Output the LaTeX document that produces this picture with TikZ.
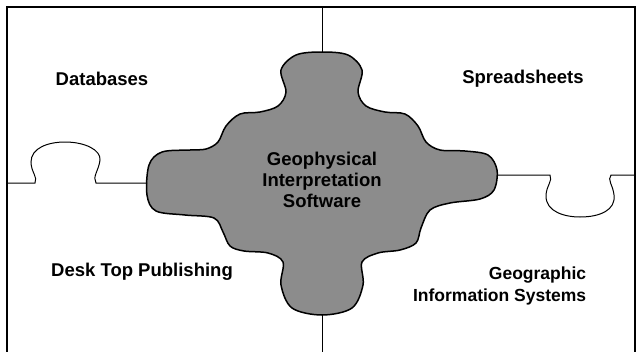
\documentclass[tikz,border=0pt]{standalone}
\usepackage{fontspec}
\setmainfont{Liberation Sans}

\begin{document}
\begin{tikzpicture}[x=1pt, y=-1pt, line width=1pt,
    lbl/.style={font=\fontsize{18.5}{21}\selectfont\bfseries, align=center}]
  \useasboundingbox (0,0) rectangle (637,351);
  \draw [line width=1.6pt] (7,352) -- (7,7) -- (635,7) -- (635,352);  % frame
  \draw [line width=1.5pt, fill=black!45] plot [smooth cycle, tension=0.55] coordinates {
    (322,52) (348,55) (362,70) (358,92) (366,106) (385,112) (405,114) (418,126)
    (426,142) (440,150) (465,151) (488,155) (497,170) (494,190) (480,199) (450,203)
    (430,210) (421,228) (416,243) (400,250) (378,253) (362,262) (363,285) (352,308)
    (322,315) (292,308) (281,285) (283,262) (268,253) (244,251) (230,246) (223,232)
    (214,218) (185,215) (156,211) (147,195) (149,165) (162,152) (190,150) (206,149)
    (218,142) (226,126) (240,114) (260,112) (278,106) (286,92) (281,70) (296,55)};  % centre piece
  \coordinate (top) at (322,52);
  \coordinate (bottom) at (322,315);
  \coordinate (west) at (147,183);
  \coordinate (east) at (497,175);
  \draw (322,7) -- (top);  % upper seam
  \draw (bottom) -- (322,352);  % lower seam
  \draw (7,183) -- (35,183) .. controls (38,177) and (31,172) .. (31,162)
    .. controls (31,148) and (48,142) .. (65,142) .. controls (85,142) and (101,150) .. (100,160)
    .. controls (99,170) and (92,177) .. (96,183) -- (west);  % left tab
  \draw (east) -- (550,175) .. controls (553,181) and (546,186) .. (546,196)
    .. controls (546,212) and (565,217) .. (580,217) .. controls (600,217) and (616,210) .. (614,195)
    .. controls (613,185) and (607,180) .. (611,175) -- (635,175);  % right tab
  \node [lbl] (db) at (102,79) {Databases};
  \node [lbl] (ss) at (523,79) {Spreadsheets};
  \node [lbl] (dtp) at (142,272) {Desk Top Publishing};
  \node [lbl, align=right, anchor=east, font=\fontsize{17.5}{22}\selectfont\bfseries] (gis)
    at (590,286) {Geographic\\Information Systems};
  \node [lbl] (gip) at (322,180) {Geophysical\\Interpretation\\Software};
\end{tikzpicture}
\end{document}
